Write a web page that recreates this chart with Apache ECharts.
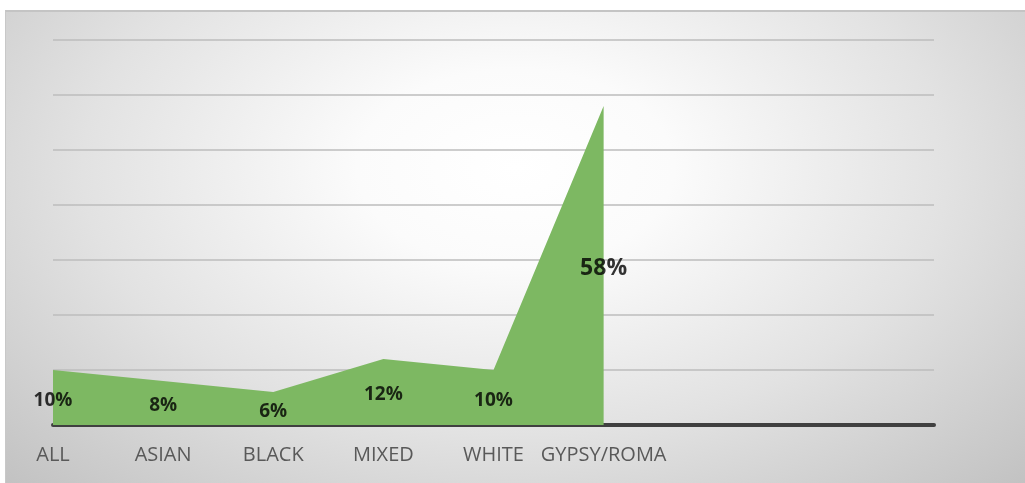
<!DOCTYPE html>
<html>
<head>
<meta charset="utf-8">
<script src="https://cdn.jsdelivr.net/npm/echarts@6/dist/echarts.min.js"></script>
<style>
  html, body { margin: 0; padding: 0; background: #fff; }
  #container {
    position: absolute; left: 5px; top: 10px;
    width: 1020px; height: 473px;
    border-top: 2px solid #c4c4c4; border-left: 1px solid #c8c8c8;
    box-sizing: border-box;
    background: radial-gradient(ellipse farthest-corner at 50% 33%, #ffffff 0%, #fbfbfb 22%, #e2e2e2 60%, #c2c2c2 100%);
  }
</style>
</head>
<body>
<div id="container"></div>
<script>
// categories (last three are empty slots on the axis)
const categories = ['ALL', 'ASIAN', 'BLACK', 'MIXED', 'WHITE', 'GYPSY/ROMA', '', '', '']
// percentages
const values = [10, 8, 6, 12, 10, 58]

var dom = document.getElementById('container')
var myChart = echarts.init(dom, null, { renderer: 'canvas' })

// labels sit halfway up the filled area, like in the original; the big one is larger
const maxIdx = values.indexOf(Math.max(...values))
const labelPoints = values.map((v, i) => ({
  value: v / 2,
  label: i === maxIdx ? { fontSize: 23 } : undefined
}))

var option = {
  backgroundColor: 'transparent',
  animation: false,
  grid: {
    left: 47,
    right: 91,
    top: 28,
    bottom: 58
  },
  xAxis: {
    type: 'category',
    data: categories,
    boundaryGap: false,
    axisLine: { lineStyle: { color: '#404040', width: 4 } },
    axisTick: { show: false },
    axisLabel: {
      interval: 0,
      color: '#595959',
      fontSize: 20,
      fontFamily: 'Open Sans',
      margin: 20
    }
  },
  yAxis: {
    type: 'value',
    min: 0,
    max: 70,
    interval: 10,
    axisLabel: { show: false },
    axisLine: { show: false },
    axisTick: { show: false },
    splitLine: { lineStyle: { color: '#bdbdbd', width: 1.5 } }
  },
  series: [
    {
      type: 'line',
      data: values,
      showSymbol: false,
      symbol: 'none',
      lineStyle: { width: 0 },
      areaStyle: { color: '#7db862', opacity: 1 },
      z: 2
    },
    {
      type: 'scatter',
      data: labelPoints,
      symbolSize: 0,
      silent: true,
      z: 5,
      label: {
        show: true,
        position: 'inside',
        offset: [0, 3],
        formatter: p => values[p.dataIndex] + '%',
        color: '#000',
        fontWeight: 'bold',
        fontSize: 19,
        fontFamily: 'Open Sans'
      }
    }
  ]
}

myChart.setOption(option)
</script>
</body>
</html>
